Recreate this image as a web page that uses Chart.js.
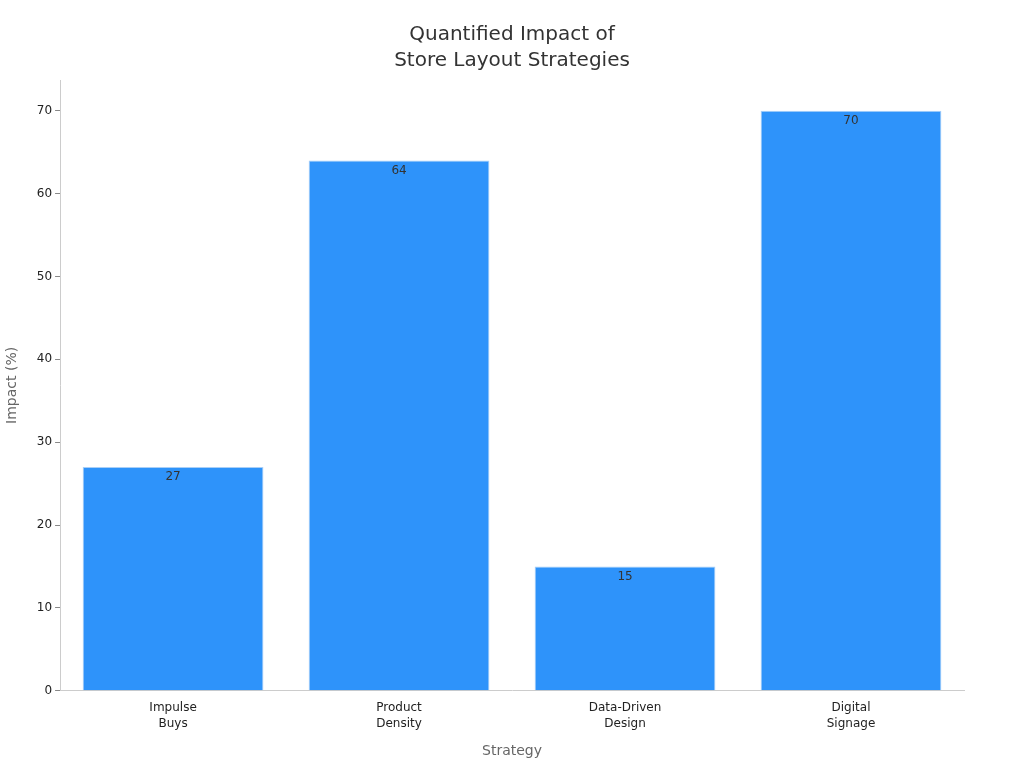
<!DOCTYPE html>
<html><head><meta charset="utf-8">
<script src="https://cdn.jsdelivr.net/npm/chart.js@4"></script>
<style>html,body{margin:0;background:#fff}#w{width:1024px;height:768px}</style>
</head><body><div id="w"><canvas id="c"></canvas></div>
<script>
const categories = [["Impulse","Buys"],["Product","Density"],["Data-Driven","Design"],["Digital","Signage"]];
const impactValues = [27, 64, 15, 70];
const yTicks = [0,10,20,30,40,50,60,70];
const titleLines = ['Quantified Impact of','Store Layout Strategies'];

const labelPlugin = {
  id:'lbl',
  afterDatasetsDraw(chart){
    const ctx = chart.ctx;
    const meta = chart.getDatasetMeta(0);
    ctx.save();
    ctx.font = '12px "DejaVu Sans"';
    ctx.fillStyle = '#333';
    ctx.textAlign = 'center';
    ctx.textBaseline = 'top';
    meta.data.forEach((b,i)=>{ ctx.fillText(String(impactValues[i]), b.x, b.y+4); });
    ctx.restore();
  },
  afterDraw(chart){
    const ctx = chart.ctx;
    ctx.save();
    ctx.font = '20px "DejaVu Sans"';
    ctx.fillStyle = '#333';
    ctx.textAlign = 'center';
    ctx.textBaseline = 'middle';
    titleLines.forEach((t,i)=>ctx.fillText(t, chart.width/2, 35 + i*26));
    ctx.restore();
  }
};

new Chart(document.getElementById('c'), {
  type:'bar',
  data:{labels:categories, datasets:[{data:impactValues, backgroundColor:'#2E93FA', borderColor:'#A9CFF7', borderWidth:1, barPercentage:0.8, categoryPercentage:1}]},
  options:{
    responsive:true, maintainAspectRatio:false, animation:false,
    layout:{padding:{left:0,right:60,top:10,bottom:4}},
    plugins:{legend:{display:false}, tooltip:{enabled:false},
      title:{display:true, text:titleLines, color:'rgba(0,0,0,0)', font:{family:'DejaVu Sans', size:20, weight:'normal', lineHeight:1.3}, padding:{top:10,bottom:8}}},
    scales:{
      x:{grid:{display:false, drawTicks:false}, border:{color:'#ccc'},
        ticks:{color:'#222', font:{family:'DejaVu Sans', size:12, lineHeight:1.35}, padding:9},
        title:{display:true, text:'Strategy', color:'#666', font:{family:'DejaVu Sans', size:14}, padding:{top:2}}},
      y:{min:0, max:73.7, afterBuildTicks(a){a.ticks=yTicks.map(v=>({value:v}));},
        grid:{display:true, drawOnChartArea:false, drawTicks:true, tickLength:5, tickColor:'#888', color:'#888'}, border:{color:'#ccc'},
        ticks:{color:'#222', font:{family:'DejaVu Sans', size:12}, padding:3},
        title:{display:true, text:'Impact (%)', color:'#666', font:{family:'DejaVu Sans', size:14}, padding:{bottom:13}}}
    }
  },
  plugins:[labelPlugin]
});
</script></body></html>
